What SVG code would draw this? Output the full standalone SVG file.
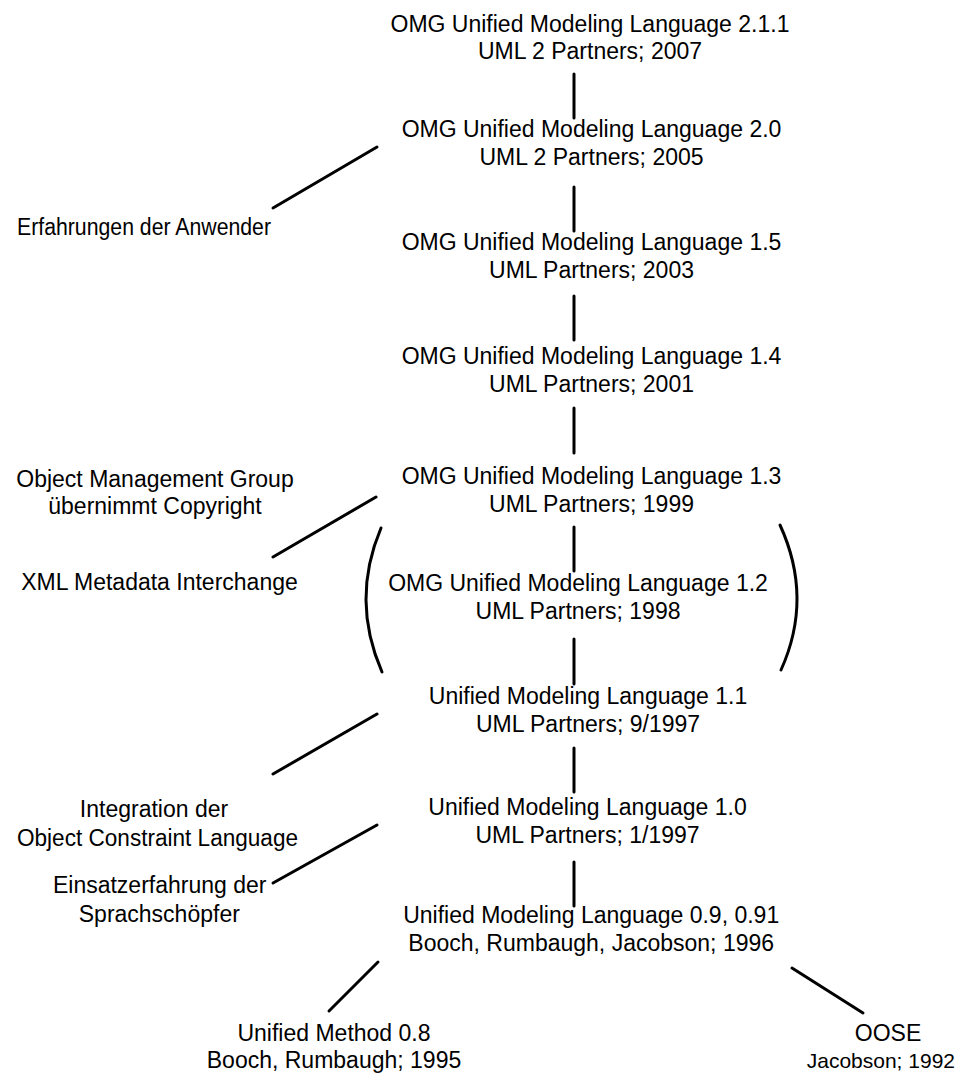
<svg xmlns="http://www.w3.org/2000/svg" width="958" height="1075" viewBox="0 0 958 1075">
<style>
text{font-family:"Liberation Sans",Arial,sans-serif;font-size:23px;fill:#000;text-anchor:middle}
.c line,.c path{stroke:#000;stroke-width:3;stroke-linecap:round;fill:none}
</style>
<rect width="958" height="1075" fill="#fff"/>
<g id="n211"><text x="590" y="32">OMG Unified Modeling Language 2.1.1</text><text x="590" y="58.5">UML 2 Partners; 2007</text></g>
<g id="n20"><text x="591.5" y="137">OMG Unified Modeling Language 2.0</text><text x="591.5" y="165">UML 2 Partners; 2005</text></g>
<g id="n15"><text x="591.5" y="250">OMG Unified Modeling Language 1.5</text><text x="591.5" y="278">UML Partners; 2003</text></g>
<g id="n14"><text x="591.5" y="363.5">OMG Unified Modeling Language 1.4</text><text x="591.5" y="391.5">UML Partners; 2001</text></g>
<g id="n13"><text x="591.5" y="483.5">OMG Unified Modeling Language 1.3</text><text x="591.5" y="511.5">UML Partners; 1999</text></g>
<g id="n12"><text x="578" y="590.5">OMG Unified Modeling Language 1.2</text><text x="578" y="618.5">UML Partners; 1998</text></g>
<g id="n11"><text x="588" y="704">Unified Modeling Language 1.1</text><text x="588" y="731.5">UML Partners; 9/1997</text></g>
<g id="n10"><text x="587.5" y="815">Unified Modeling Language 1.0</text><text x="587.5" y="843">UML Partners; 1/1997</text></g>
<g id="n09"><text x="591.2" y="923">Unified Modeling Language 0.9, 0.91</text><text x="591.2" y="950.5">Booch, Rumbaugh, Jacobson; 1996</text></g>
<g id="n08"><text x="334" y="1040.5">Unified Method 0.8</text><text x="334" y="1068">Booch, Rumbaugh; 1995</text></g>
<g id="oose"><text x="888" y="1040.5">OOSE</text><text x="955" y="1068" style="text-anchor:end;font-size:21px">Jacobson; 1992</text></g>
<g id="l-anwender"><text x="144" y="235" textLength="254" lengthAdjust="spacingAndGlyphs">Erfahrungen der Anwender</text></g>
<g id="l-omg"><text x="155" y="487">Object Management Group</text><text x="155" y="514">übernimmt Copyright</text></g>
<g id="l-xmi"><text x="159.5" y="590">XML Metadata Interchange</text></g>
<g id="l-ocl"><text x="154" y="817">Integration der</text><text x="157.5" y="846" textLength="281" lengthAdjust="spacingAndGlyphs">Object Constraint Language</text></g>
<g id="l-einsatz"><text x="159.7" y="893">Einsatzerfahrung der</text><text x="159.3" y="921.5">Sprachschöpfer</text></g>
<g id="connectors" class="c">
<line x1="574" y1="74" x2="574" y2="118"/>
<line x1="574" y1="187" x2="574" y2="231"/>
<line x1="574" y1="296" x2="574" y2="340"/>
<line x1="574" y1="408" x2="574" y2="453"/>
<line x1="574" y1="527" x2="574" y2="571"/>
<line x1="574" y1="639" x2="574" y2="684"/>
<line x1="574" y1="748" x2="574" y2="792"/>
<line x1="574" y1="862" x2="574" y2="906"/>
<line x1="377" y1="147" x2="273" y2="208"/>
<line x1="376" y1="497" x2="273" y2="557"/>
<line x1="377" y1="714" x2="273" y2="774"/>
<line x1="377" y1="825" x2="273" y2="883"/>
<line x1="378" y1="962" x2="329" y2="1011"/>
<line x1="792" y1="968" x2="863" y2="1013"/>
<path d="M381,528 Q350.5,600 382,672"/>
<path d="M780,525 Q813.5,598 781,670"/>
</g>
</svg>
